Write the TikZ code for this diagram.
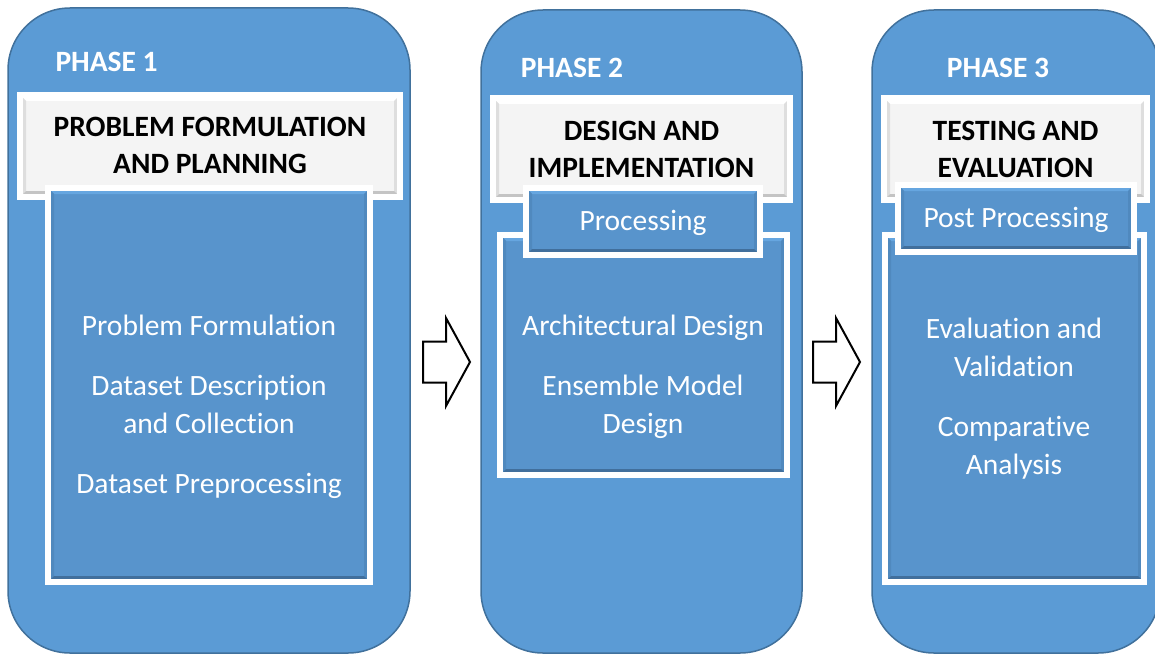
\documentclass[tikz,border=0pt]{standalone}
\usepackage{fontspec}
\setmainfont{Carlito}[Ligatures=NoCommon]
\usetikzlibrary{shadows}

\definecolor{phaseblue}{HTML}{5B9BD5}
\definecolor{phaseedge}{HTML}{41719C}
\definecolor{cardblue}{HTML}{5894CC}
\definecolor{cardlight}{HTML}{66A6E0}
\definecolor{cardside}{HTML}{5089BE}
\definecolor{carddark}{HTML}{416F9C}
\definecolor{titlegray}{HTML}{F4F4F4}
\definecolor{titleside}{HTML}{DEDEDE}
\definecolor{titledark}{HTML}{C4C4C4}

% bevelled inner edge for a card: #1 top, #2 sides, #3 bottom
\newcommand{\cardbevel}[3]{%
  \fill[#1] (path picture bounding box.north west) -- (path picture bounding box.north east)
     -- ([xshift=-6pt,yshift=-6pt]path picture bounding box.north east)
     -- ([xshift=6pt,yshift=-6pt]path picture bounding box.north west) -- cycle;
  \fill[#2] (path picture bounding box.north west) -- ([xshift=6pt,yshift=-6pt]path picture bounding box.north west)
     -- ([xshift=6pt,yshift=6pt]path picture bounding box.south west) -- (path picture bounding box.south west) -- cycle;
  \fill[#2] (path picture bounding box.north east) -- ([xshift=-6pt,yshift=-6pt]path picture bounding box.north east)
     -- ([xshift=-6pt,yshift=6pt]path picture bounding box.south east) -- (path picture bounding box.south east) -- cycle;
  \fill[#3] (path picture bounding box.south west) -- (path picture bounding box.south east)
     -- ([xshift=-6pt,yshift=6pt]path picture bounding box.south east)
     -- ([xshift=6pt,yshift=6pt]path picture bounding box.south west) -- cycle;
}

\begin{document}
\begin{tikzpicture}[x=1pt,y=-1pt,
  phase/.style={draw=phaseedge, line width=1.5pt, fill=phaseblue, rounded corners=62pt, inner sep=0pt},
  frame/.style={draw=white, line width=6pt, inner sep=0pt,
    drop shadow={opacity=0.3, shadow xshift=2pt, shadow yshift=-3pt}},
  card/.style={frame, fill=cardblue, path picture={\cardbevel{cardlight}{cardside}{carddark}}},
  titlecard/.style={frame, fill=titlegray, path picture={\cardbevel{white}{titleside}{titledark}}},
  phaselabel/.style={text=white, font=\fontsize{29.5}{36}\selectfont\bfseries},
  titletext/.style={text=black, align=center, font=\fontsize{29.5}{37}\selectfont\bfseries},
  bodytext/.style={text=white, align=center, font=\fontsize{29.5}{38}\selectfont},
  blockarrow/.style={draw=black, fill=white, line width=2pt, line join=miter}
]
\useasboundingbox (0,0) rectangle (1155,655);

% phase columns
\node[phase, minimum width=402pt, minimum height=645pt] (p1) at (209,330.5) {};
\node[phase, minimum width=321pt, minimum height=643pt] (p2) at (641.5,331.5) {};
\node[phase, minimum width=288pt, minimum height=643pt] (p3) at (1016,331.5) {};

% phase labels
\node[phaselabel, anchor=west] (l1) at (52,62) {PHASE 1};
\node[phaselabel] (l2) at (572,68) {PHASE 2};
\node[phaselabel] (l3) at (998,68) {PHASE 3};

% phase 1
\node[titlecard, minimum width=380pt, minimum height=102pt] (t1) at (210,146) {};
\node[titletext] at (t1.center) [yshift=1pt] {PROBLEM FORMULATION\\AND PLANNING};
\node[card, minimum width=322pt, minimum height=394pt] (c1) at (209,385) {};
\node[bodytext] (b1) at (209,407) {Problem Formulation\\[22pt]Dataset Description\\and Collection\\[22pt]Dataset Preprocessing};

% phase 2
\node[titlecard, minimum width=297pt, minimum height=102pt] (t2) at (641.5,149) {};
\node[titletext] at (t2.center) [yshift=0pt] {DESIGN AND\\IMPLEMENTATION};
\node[card, minimum width=287pt, minimum height=240pt] (c2) at (643.5,355) {};
\node[card, minimum width=234pt, minimum height=67pt] (s2) at (643,221.5) {};
\node[bodytext] at (s2.center) [yshift=-1pt] {Processing};
\node[bodytext] (b2) at (643,377) {Architectural Design\\[22pt]Ensemble Model\\Design};

% phase 3
\node[titlecard, minimum width=263pt, minimum height=102pt] (t3) at (1015.5,149) {};
\node[titletext] at (t3.center) [yshift=0pt] {TESTING AND\\EVALUATION};
\node[card, minimum width=259pt, minimum height=347pt] (c3) at (1014.5,408.5) {};
\node[card, minimum width=236pt, minimum height=67pt] (s3) at (1016,218.5) {};
\node[bodytext] at (s3.center) [yshift=-1pt] {Post Processing};
\node[bodytext] (b3) at (1014,399) {Evaluation and\\Validation\\[22pt]Comparative\\Analysis};

% block arrows between phases
\draw[blockarrow] (423,341.5) -- (446,341.5) -- (446,318) -- (470,362) -- (446,406)
  -- (446,382.5) -- (423,382.5) -- cycle;
\draw[blockarrow] (813,341.5) -- (836,341.5) -- (836,318) -- (860,362) -- (836,406)
  -- (836,382.5) -- (813,382.5) -- cycle;
\end{tikzpicture}
\end{document}
